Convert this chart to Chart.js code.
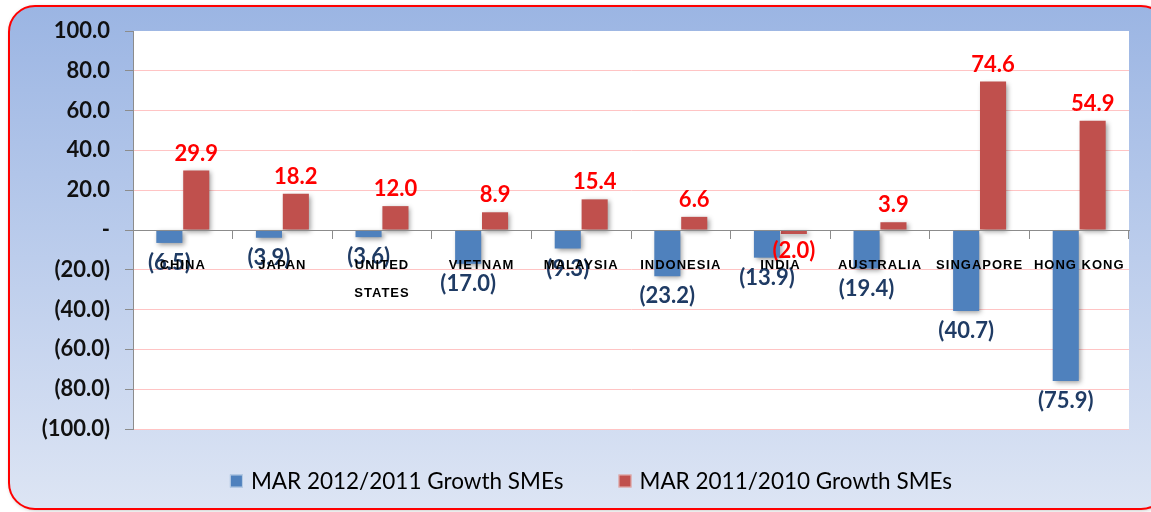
<!DOCTYPE html>
<html><head><meta charset="utf-8">
<script src="https://cdn.jsdelivr.net/npm/chart.js@4.4.1/dist/chart.umd.min.js"></script>
<style>html,body{margin:0;padding:0;background:#fff;overflow:hidden}#wrap{width:1151px;height:512px;position:relative}canvas{display:block}</style>
</head><body><div id="wrap"><canvas id="c" width="1151" height="512"></canvas></div>
<script>
const categories = ['CHINA','JAPAN',['UNITED','STATES'],'VIETNAM','MALAYSIA','INDONESIA','INDIA','AUSTRALIA','SINGAPORE','HONG KONG'];
const growth2012 = [-6.5,-3.9,-3.6,-17.0,-9.3,-23.2,-13.9,-19.4,-40.7,-75.9];
const growth2011 = [29.9,18.2,12.0,8.9,15.4,6.6,-2.0,3.9,74.6,54.9];
const seriesNames = ['MAR 2012/2011 Growth SMEs','MAR 2011/2010 Growth SMEs'];
const yTicks = [-100,-80,-60,-40,-20,0,20,40,60,80,100];

const BLUE = '#4f81bd', RED = '#c0504d';
function fmt(v){ return v === 0 ? '-' : (v < 0 ? '(' + Math.abs(v).toFixed(1) + ')' : v.toFixed(1)); }

function rr(ctx,x,y,w,h,r){
  ctx.beginPath();
  ctx.moveTo(x+r,y); ctx.lineTo(x+w-r,y); ctx.arcTo(x+w,y,x+w,y+r,r);
  ctx.lineTo(x+w,y+h-r); ctx.arcTo(x+w,y+h,x+w-r,y+h,r);
  ctx.lineTo(x+r,y+h); ctx.arcTo(x,y+h,x,y+h-r,r);
  ctx.lineTo(x,y+r); ctx.arcTo(x,y,x+r,y,r); ctx.closePath();
}

const bgPlugin = {
  id:'bg',
  beforeDraw(chart){
    const ctx = chart.ctx, a = chart.chartArea;
    ctx.save();
    ctx.fillStyle = '#fff'; ctx.fillRect(0,0,chart.width,chart.height);
    const g = ctx.createLinearGradient(0,6,0,510);
    g.addColorStop(0,'#9bb5e3'); g.addColorStop(0.5,'#bccdec'); g.addColorStop(1,'#dde5f4');
    rr(ctx,9,6,1158,503,26);
    ctx.shadowColor='rgba(0,0,0,0.3)'; ctx.shadowBlur=4; ctx.shadowOffsetX=1; ctx.shadowOffsetY=1;
    ctx.fillStyle = g; ctx.fill();
    ctx.shadowColor='transparent';
    ctx.lineWidth = 2; ctx.strokeStyle = '#ff0000'; ctx.stroke();
    ctx.fillStyle = '#fff'; ctx.fillRect(a.left, a.top, a.right-a.left, a.bottom-a.top);
    ctx.restore();
  }
};

const barFx = {
  id:'barfx',
  beforeDatasetsDraw(chart){
    const ctx = chart.ctx; ctx.save();
    ctx.shadowColor='rgba(0,0,0,0.4)'; ctx.shadowBlur=5; ctx.shadowOffsetX=2; ctx.shadowOffsetY=2;
  },
  afterDatasetsDraw(chart){
    const ctx = chart.ctx; ctx.restore();
    ctx.save();
    ctx.textAlign='center'; ctx.textBaseline='middle';
    ctx.font = 'bold 22px Lato';
    chart.data.datasets.forEach((ds,i)=>{
      const meta = chart.getDatasetMeta(i);
      ctx.fillStyle = i === 0 ? '#1f3b64' : '#ff0000';
      const off = i === 0 ? 20 : 17;
      meta.data.forEach((el,j)=>{
        const v = ds.data[j];
        const y = v >= 0 ? el.y - off : el.y + off;
        ctx.fillText(fmt(v), el.x, y);
      });
    });
    ctx.restore();
    // category labels (x scale, drawn next, above the bars) get a little letter spacing
    ctx.letterSpacing = '1px';
  },
  afterDraw(chart){
    const ctx = chart.ctx;
    ctx.letterSpacing = '0px';
    ctx.save();
    ctx.font = '22.5px Lato'; ctx.textBaseline='middle'; ctx.textAlign='left';
    const box=13, g1=8, gap=55, cy=481;
    const items = chart.data.datasets.map(d=>({t:d.label,c:d.backgroundColor,w:ctx.measureText(d.label).width}));
    const total = items.reduce((s,it)=>s+box+g1+it.w,0)+gap*(items.length-1);
    let x = (chart.chartArea.left+chart.chartArea.right)/2 - 40 - total/2;
    items.forEach(it=>{
      ctx.fillStyle=it.c; ctx.fillRect(x,cy-box/2,box,box);
      ctx.strokeStyle='rgba(255,255,255,0.6)'; ctx.lineWidth=1; ctx.strokeRect(x+0.5,cy-box/2+0.5,box-1,box-1);
      ctx.fillStyle='#000'; ctx.fillText(it.t,x+box+g1,cy+1);
      x += box+g1+it.w+gap;
    });
    ctx.restore();
  }
};

new Chart(document.getElementById('c'),{
  type:'bar',
  data:{
    labels:categories,
    datasets:[
      {label:seriesNames[0],data:growth2012,backgroundColor:BLUE,borderWidth:0,categoryPercentage:0.54,barPercentage:0.97},
      {label:seriesNames[1],data:growth2011,backgroundColor:RED,borderWidth:0,categoryPercentage:0.54,barPercentage:0.97}
    ]
  },
  options:{
    responsive:false, animation:false, devicePixelRatio:1,
    layout:{padding:{left:0,top:31,right:22,bottom:83}},
    plugins:{legend:{display:false},tooltip:{enabled:false}},
    scales:{
      x:{
        type:'category', offset:true, position:{y:0},
        grid:{display:true,drawOnChartArea:false,offset:true,tickLength:8,color:'#8c8c8c',z:1},
        border:{display:true,color:'#8c8c8c',width:1,z:1},
        ticks:{z:1,autoSkip:false,maxRotation:0,minRotation:0,padding:13,color:'#000',
          font:{family:'Liberation Sans',weight:'bold',size:13,lineHeight:2.15}}
      },
      y:{
        min:-100,max:100,
        afterBuildTicks(s){ s.ticks = yTicks.map(v=>({value:v})); },
        afterFit(s){ s.width = 133; },
        grid:{drawTicks:true,tickLength:8,tickColor:'#8c8c8c',
          color:(c)=> (c.tick && (c.tick.value===0 || c.tick.value===100)) ? 'rgba(0,0,0,0)' : '#ffc4c4'},
        border:{display:true,color:'#8c8c8c',width:1},
        ticks:{padding:15,color:'#111',font:{family:'Lato',weight:'bold',size:22},callback:(v)=>fmt(v)}
      }
    }
  },
  plugins:[bgPlugin,barFx]
});
</script></body></html>
